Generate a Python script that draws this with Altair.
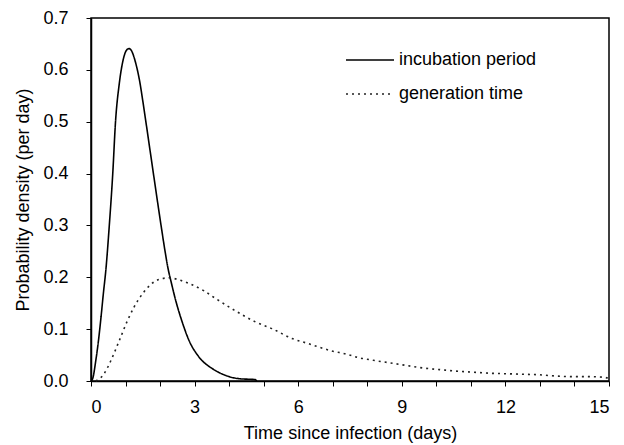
import altair as alt
import pandas as pd

# ---- data ----
series_names = ["incubation period", "generation time"]

inc_days = [0.0, 0.05, 0.14, 0.22, 0.29, 0.36, 0.43, 0.53, 0.63, 0.71, 0.82, 0.93,
            1.02, 1.10, 1.18, 1.27, 1.42, 1.50, 1.60, 1.72, 1.84, 1.95, 2.04, 2.14,
            2.24, 2.31, 2.45, 2.64, 2.84, 3.13, 3.51, 3.89, 4.28, 4.76, 4.80]
inc_density = [0.0, 0.005, 0.04, 0.08, 0.123, 0.17, 0.214, 0.30, 0.40, 0.50, 0.574, 0.619,
               0.637, 0.641, 0.636, 0.619, 0.574, 0.540, 0.495, 0.44, 0.385, 0.335, 0.295, 0.252,
               0.214, 0.194, 0.156, 0.114, 0.078, 0.046, 0.024, 0.011, 0.0045, 0.0026, 0.0]

gen_days = [0.14, 0.38, 0.58, 0.82, 1.06, 1.25, 1.49, 1.73, 1.97, 2.26, 2.55, 2.84,
            3.27, 3.61, 4.09, 4.76, 5.24, 5.82, 6.30, 6.97, 7.45, 7.69, 8.17, 8.65,
            9.13, 9.62, 10.1, 10.58, 11.06, 11.54, 12.02, 12.5, 12.98, 13.46, 13.94,
            14.42, 14.86, 15.0]
gen_density = [0.0, 0.014, 0.040, 0.078, 0.117, 0.143, 0.168, 0.186, 0.196, 0.199, 0.195, 0.188,
               0.174, 0.159, 0.139, 0.114, 0.101, 0.082, 0.072, 0.058, 0.051, 0.046, 0.040, 0.035,
               0.030, 0.025, 0.022, 0.019, 0.017, 0.015, 0.014, 0.013, 0.012, 0.0096, 0.0084,
               0.0084, 0.007, 0.005]

x_ticks = list(range(0, 16))
y_ticks = [0.0, 0.1, 0.2, 0.3, 0.4, 0.5, 0.6, 0.7]

df = pd.concat([
    pd.DataFrame({"days": inc_days, "density": inc_density, "series": series_names[0]}),
    pd.DataFrame({"days": gen_days, "density": gen_density, "series": series_names[1]}),
], ignore_index=True)

FONT = "Liberation Sans"

legend_def = dict(
    orient="none", legendX=254, legendY=17, title=None,
    symbolType="stroke", symbolSize=2304, symbolStrokeWidth=1.5,
    labelFontSize=18, labelFont=FONT, labelColor="black",
    labelOffset=4, rowPadding=-9, padding=0,
)

chart = alt.Chart(df).mark_line(strokeWidth=1.6, interpolate="monotone").encode(
    x=alt.X("days:Q",
            scale=alt.Scale(domain=[0, 15], nice=False, zero=True),
            axis=alt.Axis(title="Time since infection (days)", values=x_ticks,
                          labelExpr="datum.value % 3 == 0 ? datum.label : ''",
                          tickSize=5, labelPadding=12, titlePadding=8,
                          labelFontSize=18, titleFontSize=18)),
    y=alt.Y("density:Q",
            scale=alt.Scale(domain=[0, 0.7], nice=False),
            axis=alt.Axis(title="Probability density (per day)", values=y_ticks,
                          format=".1f", tickSize=5, labelPadding=18, titlePadding=10,
                          labelFontSize=18, titleFontSize=18)),
    color=alt.Color("series:N",
                    scale=alt.Scale(domain=series_names, range=["#000000", "#222222"]),
                    legend=alt.Legend(**legend_def)),
    strokeDash=alt.StrokeDash("series:N",
                              scale=alt.Scale(domain=series_names, range=[[1, 0], [2, 4]]),
                              legend=alt.Legend(**legend_def)),
).properties(
    width=518, height=363,
    autosize=alt.AutoSizeParams(type="none"),
    padding={"left": 83, "top": 10, "right": 5, "bottom": 66},
).configure(
    font=FONT,
).configure_view(
    stroke="black", strokeWidth=1.5,
).configure_axis(
    grid=False, domainColor="black", domainWidth=1.5, tickColor="black", tickWidth=1,
    labelColor="black", titleColor="black", labelFont=FONT, titleFont=FONT,
    titleFontWeight="normal",
)

chart.save("out.html", embed_options={"renderer": "svg", "actions": False})
